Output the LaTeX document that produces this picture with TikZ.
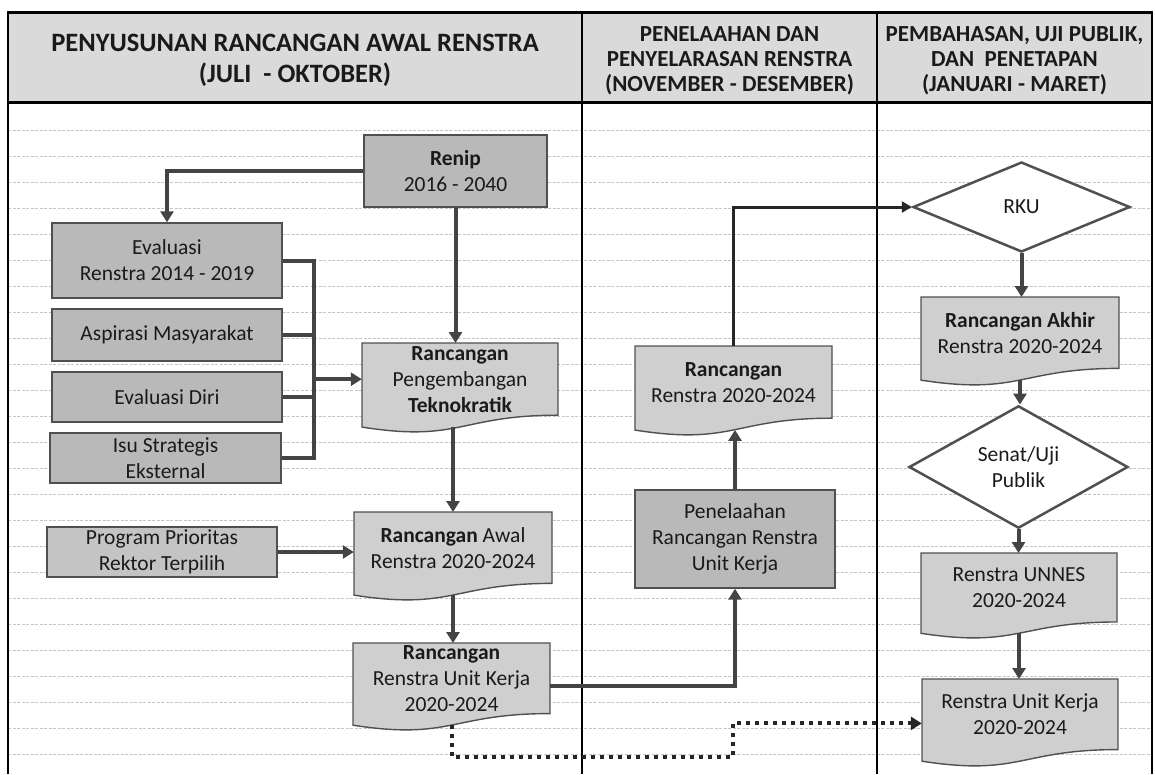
\documentclass[tikz,border=0pt]{standalone}
\usepackage{fontspec}
\setmainfont{Carlito}
\usetikzlibrary{arrows.meta,shapes.geometric}

\definecolor{ink}{HTML}{1A1A1A}
\definecolor{wire}{HTML}{444444}
\definecolor{edge}{HTML}{505050}
\definecolor{hdrfill}{HTML}{DADADA}
\definecolor{boxfill}{HTML}{B9B9B9}
\definecolor{progfill}{HTML}{C4C4C4}
\definecolor{docfill}{HTML}{CFCFCF}
\definecolor{gridc}{HTML}{C4C4C4}

\tikzset{
  every node/.style={font=\fontsize{21.5}{26}\selectfont, text=ink},
  procbox/.style={draw=edge, line width=1.4pt, fill=boxfill, align=center, inner sep=0pt},
  docshape/.style={draw=edge, line width=1.4pt, fill=docfill},
  doctext/.style={draw=none, align=center, inner sep=0pt},
  decision/.style={diamond, draw=edge, line width=2.5pt, fill=white, align=center, inner sep=0pt},
  hdrA/.style={align=center, font=\fontsize{26.5}{31}\selectfont\bfseries},
  hdrB/.style={align=center, font=\fontsize{23}{25}\selectfont\bfseries},
  frameline/.style={draw=black, line width=2pt},
  gridline/.style={draw=gridc, line width=0.8pt, dash pattern=on 3pt off 1.5pt},
  wireline/.style={draw=wire, line width=4pt},
  flow/.style={draw=wire, line width=4pt, -{Triangle[length=11pt,width=13pt]}},
  thinflow/.style={draw=black!85, line width=3pt, -{Triangle[length=10pt,width=11pt]}},
  dotflow/.style={draw=black!85, line width=4pt, dash pattern=on 4pt off 5pt, -{Triangle[length=11pt,width=13pt]}},
}

% document-shaped node: name, centre x, top y, width, height, text
\newcommand{\docnode}[6]{%
  \filldraw[docshape] ({#2-#4/2},#3) -- ({#2+#4/2},#3) -- ({#2+#4/2},{#3+0.802*#5})
    .. controls (#2,{#3+0.802*#5}) and (#2,{#3+1.107*#5}) .. ({#2-#4/2},{#3+0.934*#5}) -- cycle;
  \node[doctext, minimum width=#4pt, minimum height={0.8*#5pt}, anchor=north] (#1) at (#2,#3) {#6};
  \coordinate (#1-b) at (#2,{#3+0.933*#5});
}

\begin{document}
\begin{tikzpicture}[x=1pt,y=-1pt]
\useasboundingbox (0,0) rectangle (1155,774);
\fill[white] (0,0) rectangle (1155,774);

% ruled background
\foreach \k in {0,...,24} \draw[gridline] (8,{130+26*\k}) -- (1152,{130+26*\k});

% header band and lane frame
\fill[hdrfill] (8,12) rectangle (1152,102);
\draw[frameline] (8,774) -- (8,12) -- (1152,12) -- (1152,774);
\draw[frameline, line width=3pt] (8,12) -- (1152,12);
\draw[frameline, line width=3pt] (8,102) -- (1152,102);
\draw[frameline] (582,12) -- (582,774);
\draw[frameline] (877,12) -- (877,774);

\node[hdrA] (hA) at (295,60) {PENYUSUNAN RANCANGAN AWAL RENSTRA\\(JULI\ \ - OKTOBER)};
\node[hdrB] (hB) at (729.5,61) {PENELAAHAN DAN\\PENYELARASAN RENSTRA\\(NOVEMBER - DESEMBER)};
\node[hdrB] (hC) at (1014.5,61) {PEMBAHASAN, UJI PUBLIK,\\DAN\ \ PENETAPAN\\(JANUARI - MARET)};

% process boxes
\node[procbox, minimum width=183pt, minimum height=72pt] (renip) at (455.5,171) {\textbf{Renip}\\2016 - 2040};
\node[procbox, minimum width=230pt, minimum height=75pt] (evren) at (167,260.5) {Evaluasi\\Renstra 2014 - 2019};
\node[procbox, minimum width=230pt, minimum height=52pt] (aspi) at (167,335) {Aspirasi Masyarakat};
\node[procbox, minimum width=230pt, minimum height=50pt] (diri) at (167,397) {Evaluasi Diri};
\node[procbox, minimum width=231pt, minimum height=50pt] (isu) at (165.5,458) {Isu Strategis\\Eksternal};
\node[procbox, fill=progfill, minimum width=230pt, minimum height=50pt] (prog) at (162,552) {Program Prioritas\\Rektor Terpilih};
\node[procbox, minimum width=200pt, minimum height=98pt] (penel) at (735,539) {Penelaahan\\Rancangan Renstra\\Unit Kerja};

% documents
\docnode{tek}{460}{343}{196}{90}{\textbf{Rancangan}\\Pengembangan\\\textbf{Teknokratik}}
\docnode{awal}{453}{512}{198}{89}{\textbf{Rancangan} Awal\\Renstra 2020-2024}
\docnode{uker}{451.5}{643}{197}{88}{\textbf{Rancangan}\\Renstra Unit Kerja\\2020-2024}
\docnode{rren}{733.5}{346}{197}{90}{\textbf{Rancangan}\\Renstra 2020-2024}
\docnode{akhir}{1020}{297}{198}{89}{\textbf{Rancangan Akhir}\\Renstra 2020-2024}
\docnode{unnes}{1019}{553}{196}{86}{Renstra UNNES\\2020-2024}
\docnode{ruk}{1020}{679}{196}{88}{Renstra Unit Kerja\\2020-2024}

% decisions
\node[decision, minimum width=217pt, minimum height=90pt] (rku) at (1021.5,207) {RKU};
\node[decision, minimum width=219pt, minimum height=90pt] (senat) at (1018.5,467) {Senat/Uji\\Publik};

% connectors
\draw[flow] (renip.west) -| (evren.north);
\draw[flow] (renip.south) -- (renip.south |- tek.north);
\coordinate (brk) at (314,260.5);
\draw[wireline] (evren.east) -- (brk) -- (brk |- isu.east) -- (isu.east);
\draw[wireline] (aspi.east) -- (brk |- aspi.east);
\draw[wireline] (diri.east) -- (brk |- diri.east);
\draw[flow] (brk |- tek.west) -- (tek.west);
\draw[flow] (awal.north |- tek-b) -- (awal.north);
\draw[flow] (prog.east) -- (prog.east -| awal.west);
\draw[flow] (awal-b) -- (awal-b |- uker.north);
\draw[flow] ([yshift=-8pt]uker.east) -| (penel.south);
\draw[flow] (penel.north) -- (penel.north |- rren-b);
\draw[thinflow] (rren.north) |- (rku.west);
\draw[flow] (rku.south) -- (rku.south |- akhir.north);
\draw[flow] (akhir-b) -- (akhir-b |- senat.north);
\draw[flow] (senat.south) -- (senat.south |- unnes.north);
\draw[flow] (unnes-b) -- (unnes-b |- ruk.north);
\coordinate (dmid) at (733,757);
\draw[dotflow] (uker-b) |- (dmid) |- ([yshift=-9pt]ruk.west);
\end{tikzpicture}
\end{document}
